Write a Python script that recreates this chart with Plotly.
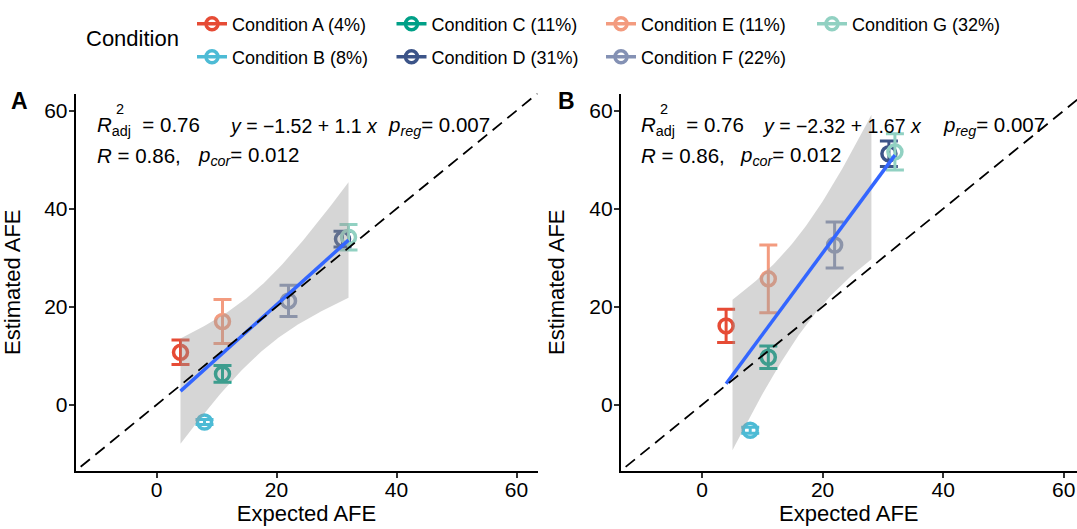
import numpy as np
import plotly.graph_objects as go

# ---------------- data ----------------
conditions = ["Condition A (4%)", "Condition B (8%)", "Condition C (11%)", "Condition D (31%)",
              "Condition E (11%)", "Condition F (22%)", "Condition G (32%)"]
colors = ["#E64B35", "#4DBBD5", "#00A087", "#3C5488", "#F39B7F", "#8491B4", "#91D1C2"]
expected = [4, 8, 11, 31, 11, 22, 32]

est_A = [10.7, -3.5, 6.3, 33.8, 17.0, 21.2, 34.2]
err_A = [2.5, 0.5, 1.7, 1.6, 4.5, 3.2, 2.6]

est_B = [16.1, -5.2, 9.7, 51.2, 25.7, 32.6, 51.6]
err_B = [3.4, 0.6, 2.3, 2.6, 6.9, 4.7, 3.7]

stats_A = ["<i>R</i><sub>adj</sub>\u00a0 = 0.76", "<i>y</i> = \u22121.52 + 1.1 <i>x</i>",
           "<i>p<sub>reg</sub></i>= 0.007", "<i>R</i> = 0.86,", "<i>p<sub>cor</sub></i>= 0.012"]
stats_B = ["<i>R</i><sub>adj</sub>\u00a0 = 0.76", "<i>y</i> = \u22122.32 + 1.67 <i>x</i>",
           "<i>p<sub>reg</sub></i>= 0.007", "<i>R</i> = 0.86,", "<i>p<sub>cor</sub></i>= 0.012"]

scale_limits = [-10, 60]      # ggplot-style scale limits (values outside become NA)
T_975_DF5 = 2.570582          # t quantile for 95% CI with n-2 = 5 df

W, H = 1077, 529
FONT = "Liberation Sans, Arial, Helvetica, sans-serif"


def px(p):
    return p / W


def py(p):
    return 1 - p / H


fig = go.Figure()


def smooth(xv, yv):
    x = np.asarray(xv, float)
    y = np.asarray(yv, float)
    n = len(x)
    b, a = np.polyfit(x, y, 1)
    xs = np.linspace(x.min(), x.max(), 80)
    yhat = a + b * xs
    resid = y - (a + b * x)
    s = np.sqrt(np.sum(resid ** 2) / (n - 2))
    sxx = np.sum((x - x.mean()) ** 2)
    se = s * np.sqrt(1 / n + (xs - x.mean()) ** 2 / sxx)
    return xs, yhat, yhat - T_975_DF5 * se, yhat + T_975_DF5 * se


for (xa, ya, est, err) in [("x", "y", est_A, err_A), ("x2", "y2", est_B, err_B)]:
    for i in range(len(conditions)):
        fig.add_trace(go.Scatter(
            x=[expected[i]], y=[est[i]], xaxis=xa, yaxis=ya, mode="markers",
            marker=dict(symbol="circle-open", size=14, color=colors[i], line=dict(width=3.5, color=colors[i])),
            error_y=dict(type="data", array=[err[i]], visible=True, color=colors[i], thickness=3, width=9),
            showlegend=False, hoverinfo="skip"))
    xs, yhat, lo, hi = smooth(expected, est)
    ok = (lo >= scale_limits[0]) & (hi <= scale_limits[1])
    rx, rlo, rhi = xs[ok], lo[ok], hi[ok]
    fig.add_trace(go.Scatter(
        x=np.concatenate([rx, rx[::-1]]), y=np.concatenate([rhi, rlo[::-1]]),
        xaxis=xa, yaxis=ya, mode="lines", fill="toself", fillcolor="rgba(153,153,153,0.4)",
        line=dict(width=0), showlegend=False, hoverinfo="skip"))
    fig.add_trace(go.Scatter(
        x=xs, y=yhat, xaxis=xa, yaxis=ya, mode="lines", line=dict(color="#3366FF", width=3.5),
        showlegend=False, hoverinfo="skip"))
    fig.add_trace(go.Scatter(
        x=[-20, 80], y=[-20, 80], xaxis=xa, yaxis=ya, mode="lines",
        line=dict(color="black", width=1.8, dash="12px,7px"), showlegend=False, hoverinfo="skip"))

# legend: one single-entry legend per key, laid out like ggplot's 2-row column-major guide
legend_rows = [0, 1, 0, 1, 0, 1, 0]
legend_cols = [0, 0, 1, 1, 2, 2, 3]
col_x = [192, 391.5, 601, 812]
row_y = [24, 57]

layout_legends = {}
for i in range(len(conditions)):
    lname = "legend" if i == 0 else "legend%d" % (i + 1)
    fig.add_trace(go.Scatter(
        x=[None], y=[None], mode="lines+markers", name=conditions[i], legend=lname,
        marker=dict(symbol="circle-open", size=12, color=colors[i], line=dict(width=3.5, color=colors[i])),
        line=dict(color=colors[i], width=3.5)))
    layout_legends[lname] = dict(orientation="v", x=px(col_x[legend_cols[i]]), xanchor="left",
                                 y=py(row_y[legend_rows[i]]), yanchor="middle",
                                 font=dict(size=18, family=FONT), bgcolor="rgba(0,0,0,0)",
                                 itemwidth=30)

axis_common = dict(showline=True, linecolor="black", linewidth=1.5, ticks="outside", ticklen=5,
                   tickwidth=1.5, tickcolor="#333333", showgrid=False, zeroline=False,
                   tickvals=[0, 20, 40, 60], tickfont=dict(size=21, color="black", family=FONT),
                   ticklabeloverflow="allow")

expand = 0.05 * (scale_limits[1] - scale_limits[0])
full_range = [scale_limits[0] - expand, scale_limits[1] + expand]

ydom = [py(471), py(93.5)]
xtitle = dict(text="Expected AFE", font=dict(size=22), standoff=4)
ytitle = dict(text="Estimated AFE", font=dict(size=22), standoff=19)

fig.update_layout(
    width=W, height=H, margin=dict(l=0, r=0, t=0, b=0),
    paper_bgcolor="white", plot_bgcolor="white",
    font=dict(family=FONT, color="black"),
    xaxis=dict(domain=[px(75.5), px(537.5)], range=full_range, anchor="y",
               title=xtitle, ticklabelstandoff=-6, **axis_common),
    yaxis=dict(domain=ydom, range=full_range, anchor="x",
               title=ytitle, ticklabelstandoff=-3, **axis_common),
    # panel B is cropped by the right edge of the picture
    xaxis2=dict(domain=[px(620.6), 1.0], range=[full_range[0], 62.2], anchor="y2",
                title=xtitle, ticklabelstandoff=-6, **axis_common),
    yaxis2=dict(domain=ydom, range=full_range, anchor="x2",
                title=ytitle, ticklabelstandoff=-3, **axis_common),
    **layout_legends,
)

ann = []
ann.append(dict(text="Condition", x=px(84), y=py(38), xref="paper", yref="paper",
                xanchor="left", yanchor="middle", showarrow=False, font=dict(size=22)))
ann.append(dict(text="<b>A</b>", x=px(20), y=py(101), xref="paper", yref="paper",
                xanchor="center", yanchor="middle", showarrow=False, font=dict(size=23)))
ann.append(dict(text="<b>B</b>", x=px(566), y=py(101), xref="paper", yref="paper",
                xanchor="center", yanchor="middle", showarrow=False, font=dict(size=23)))

pos_A = [(95, 126), (227, 126), (386, 126), (95, 156), (196, 156)]
pos_B = [(639, 126), (760, 126), (941, 126), (639, 156), (738, 156)]
sizes = [20.5, 19.5, 20.5, 20.5, 20.5]
for texts, poss in [(stats_A, pos_A), (stats_B, pos_B)]:
    for t, (xx, yy), fs in zip(texts, poss, sizes):
        ann.append(dict(text=t, x=px(xx), y=py(yy), xref="paper", yref="paper",
                        xanchor="left", yanchor="middle", showarrow=False, font=dict(size=fs)))
    ann.append(dict(text="2", x=px(poss[0][0] + 25), y=py(109), xref="paper", yref="paper",
                    xanchor="center", yanchor="middle", showarrow=False, font=dict(size=14.5)))
fig.update_layout(annotations=ann)

# remove the default 8px page margin so the figure fills the window exactly
fig.write_html("out.html", config={"displayModeBar": False},
               post_script="document.body.style.margin='0';")
